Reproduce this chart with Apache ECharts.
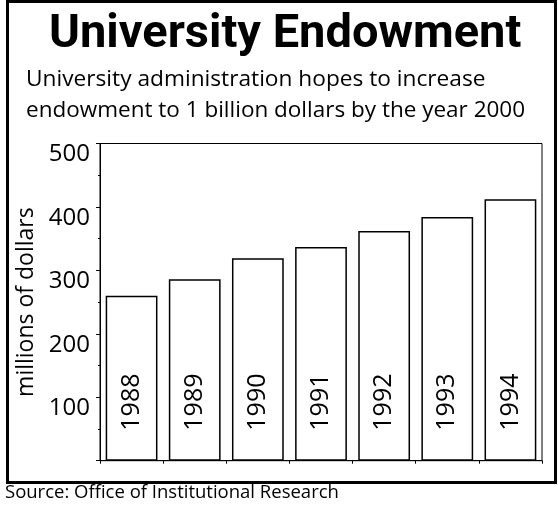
<!DOCTYPE html>
<html><head><meta charset="utf-8">
<script src="https://cdn.jsdelivr.net/npm/echarts@6/dist/echarts.min.js"></script>
<style>html,body{margin:0;padding:0;background:#fff}#c{width:558px;height:505px}</style>
</head><body><div id="c"></div>
<script>
var years = ['1988','1989','1990','1991','1992','1993','1994'];
var endowment = [260, 286, 319, 337, 362, 384, 412];
var yTicks = [0, 100, 200, 300, 400, 500];
var titleText = 'University Endowment';
var subtitleLines = ['University administration hopes to increase', 'endowment to 1 billion dollars by the year 2000'];
var yAxisName = 'millions of dollars';
var sourceText = 'Source: Office of Institutional Research';

var FONT = '"Open Sans", sans-serif';
var chart = echarts.init(document.getElementById('c'), null, {renderer: 'canvas'});
chart.setOption({
  animation: false,
  backgroundColor: '#fff',
  title: {
    text: titleText, left: 44, top: 7,
    textStyle: {fontFamily: 'Roboto, sans-serif', fontWeight: 'bold', fontSize: 47, color: '#000'}
  },
  graphic: [
    {type: 'rect', shape: {x: 7.5, y: 1.5, width: 548, height: 481}, style: {fill: 'none', stroke: '#000', lineWidth: 3}, z: 100},
    {type: 'text', left: 26, top: 68, style: {text: subtitleLines[0], font: '22.7px ' + FONT, fill: '#000'}},
    {type: 'text', left: 26, top: 99, style: {text: subtitleLines[1], font: '22.5px ' + FONT, fill: '#000'}},
    {type: 'text', left: 5, top: 483, style: {text: sourceText, font: '18.5px ' + FONT, fill: '#000'}}
  ],
  grid: {left: 100, right: 16, top: 143.5, bottom: 44.3, show: true, borderColor: '#000', borderWidth: 1, backgroundColor: 'transparent'},
  xAxis: {
    type: 'category', data: years,
    axisLine: {lineStyle: {color: '#000', width: 1}},
    axisTick: {show: true, length: 3, lineStyle: {color: '#000'}},
    axisLabel: {show: false}
  },
  yAxis: {
    type: 'value', min: yTicks[0], max: yTicks[yTicks.length - 1], interval: 100,
    name: yAxisName, nameLocation: 'middle', nameGap: 59, nameRotate: 90,
    nameTextStyle: {fontFamily: FONT, fontSize: 23, color: '#000'},
    axisLine: {show: true, lineStyle: {color: '#000', width: 1}},
    axisTick: {show: true, length: 4, lineStyle: {color: '#000'}},
    minorTick: {show: true, splitNumber: 2, length: 2, lineStyle: {color: '#000'}},
    splitLine: {show: false},
    axisLabel: {
      fontFamily: FONT, fontSize: 24, color: '#000', margin: 10, verticalAlign: 'top', lineHeight: 22,
      formatter: function (v) { return v === 0 ? '' : String(v); }
    }
  },
  series: [{
    type: 'bar', data: endowment, barWidth: '82%',
    itemStyle: {color: '#fff', borderColor: '#000', borderWidth: 1.5},
    label: {
      show: true, position: 'insideBottom', rotate: 90, align: 'left', verticalAlign: 'middle',
      distance: 30, formatter: function (p) { return p.name; },
      fontFamily: FONT, fontSize: 25, color: '#000'
    }
  }]
});
</script></body></html>
